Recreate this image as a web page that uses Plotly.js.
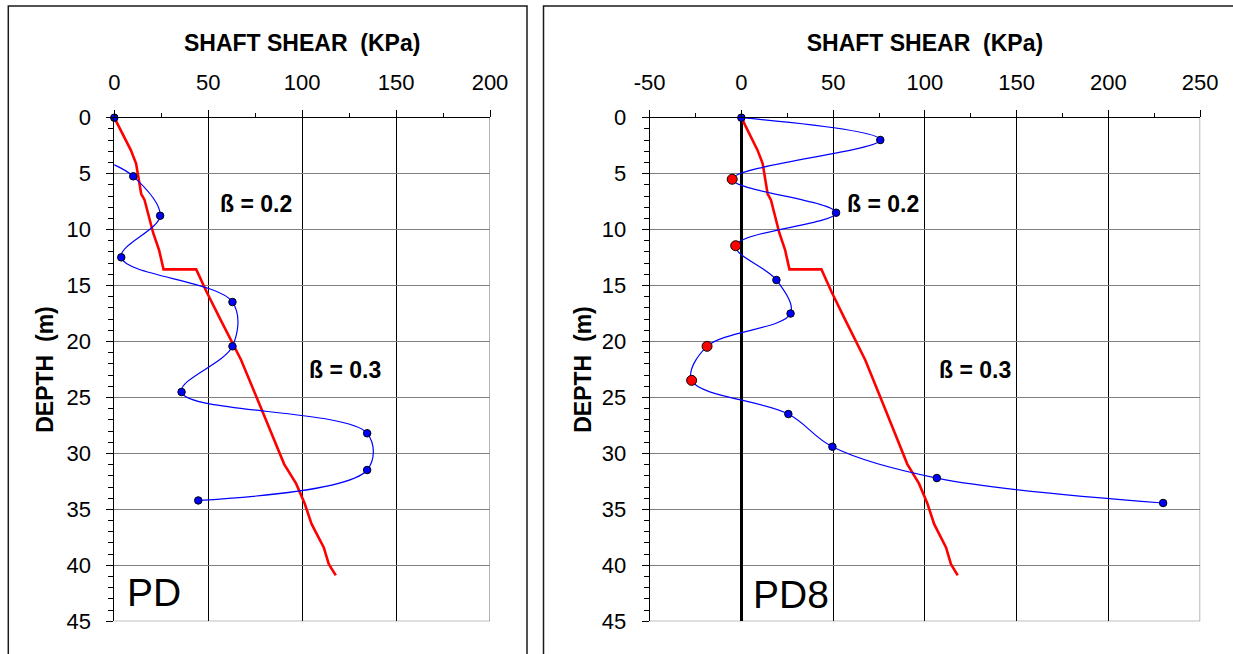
<!DOCTYPE html>
<html>
<head>
<meta charset="utf-8">
<script src="https://cdn.plot.ly/plotly-3.0.1.min.js"></script>
<style>html,body{margin:0;padding:0;background:#fff;}#chart{width:1233px;height:654px;}</style>
</head>
<body>
<div id="chart"></div>
<script>
// ---- Data ----
// Left panel (PD): measured shaft shear vs depth
var pdShear = [0, 10.1, 24.4, 3.7, 62.9, 62.9, 35.8, 134.6, 134.6, 44.7];
var pdDepth = [0, 5.24, 8.76, 12.48, 16.47, 20.43, 24.51, 28.2, 31.48, 34.2];
// visible start of the smoothed PD curve (the curve enters from the axis)
var pdCurveStartShear = -3;
var pdCurveStartDepth = 4.0;

// Right panel (PD8): measured shaft shear vs depth
var pd8Shear = [0, 75.7, -5.0, 51.6, -3.1, 19.1, 26.8, -18.7, -27.1, 25.6, 49.6, 106.5, 229.8];
var pd8Depth = [0, 1.99, 5.5, 8.49, 11.44, 14.5, 17.5, 20.43, 23.47, 26.48, 29.4, 32.2, 34.43];

// Beta-method prediction (same on both panels)
var betaShear = [0, 8.8, 11.6, 14.3, 16.1, 18.9, 20.7, 23.8, 26.2, 43.6, 49.1, 56.4, 63.8, 67.5, 78.5, 84.0, 90.4, 96.8, 101.4, 105.0, 111.5, 114.2, 117.9];
var betaDepth = [0, 2.9, 4.1, 6.8, 7.35, 9.1, 10.3, 11.8, 13.55, 13.55, 15.55, 18.0, 20.46, 21.65, 26.1, 28.3, 30.95, 32.7, 34.5, 36.3, 38.4, 39.9, 40.9];

// Axis settings / labels
var leftXRange = [0, 200];
var rightXRange = [-50, 250];
var leftXTicks = [0, 50, 100, 150, 200];
var leftXTickText = ['0', '50', '100', '150', '200'];
var rightXTicks = [-50, 0, 50, 100, 150, 200, 250];
var rightXTickText = ['-50', '0', '50', '100', '150', '200', '250'];
var depthRange = [45, 0];
var xTitle = 'SHAFT SHEAR \u00a0(KPa)';
var yTitle = 'DEPTH \u00a0(m)';
var betaLabels = ['\u00df = 0.2', '\u00df = 0.3'];
var betaLabelShearLeft = [75.2, 122.7];
var betaLabelShearRight = [77.2, 127.3];
var betaLabelDepth = [7.7, 22.55];
var panelNames = ['PD', 'PD8'];

// ---- Styling ----
var FONT = 'Arial, "Liberation Sans", Helvetica, sans-serif';
var W = 1233, H = 654;
function px(v) { return v / W; }
function py(v) { return 1 - v / H; }

var traces = [];
// red beta lines
traces.push({x: betaShear, y: betaDepth, xaxis: 'x', yaxis: 'y', mode: 'lines',
  line: {color: '#ff0000', width: 2.6}, hoverinfo: 'skip'});
traces.push({x: betaShear, y: betaDepth, xaxis: 'x2', yaxis: 'y2', mode: 'lines',
  line: {color: '#ff0000', width: 2.6}, hoverinfo: 'skip'});

// left measured curve
traces.push({x: [pdCurveStartShear].concat(pdShear.slice(1)),
  y: [pdCurveStartDepth].concat(pdDepth.slice(1)),
  xaxis: 'x', yaxis: 'y', mode: 'lines',
  line: {color: '#0000ff', width: 1.2, shape: 'spline', smoothing: 1}, hoverinfo: 'skip'});
traces.push({x: pdShear, y: pdDepth, xaxis: 'x', yaxis: 'y', mode: 'markers', cliponaxis: false,
  marker: {color: '#0000ff', size: 7.5, opacity: 1, line: {color: '#000', width: 1}}, hoverinfo: 'skip'});

// right measured curve
traces.push({x: pd8Shear, y: pd8Depth, xaxis: 'x2', yaxis: 'y2', mode: 'lines+markers', cliponaxis: false,
  line: {color: '#0000ff', width: 1.2, shape: 'spline', smoothing: 1},
  marker: {color: pd8Shear.map(function (v) { return v < 0 ? '#ff0000' : '#0000ff'; }),
           size: pd8Shear.map(function (v) { return v < 0 ? 10 : 7.5; }),
           opacity: 1,
           line: {color: '#000', width: 1}}, hoverinfo: 'skip'});

function xAxis(domain, range, anchor, tickvals, ticktext) {
  return {
    domain: domain, range: range, anchor: anchor, side: 'top',
    tickmode: 'array', tickvals: tickvals, ticktext: ticktext,
    ticks: 'outside', ticklen: 7, tickwidth: 1, tickcolor: '#000',
    showline: true, linecolor: '#000', linewidth: 1,
    showgrid: true, gridcolor: '#000', gridwidth: 1,
    zeroline: false, fixedrange: true,
    minor: {dtick: 25, tick0: 0, ticks: 'outside', ticklen: 4, tickcolor: '#000', showgrid: false},
    tickfont: {family: FONT, size: 22, color: '#000'},
    ticklabelstandoff: 11,
    title: {text: '<b>' + xTitle + '</b>', font: {family: FONT, size: 23, color: '#000'}, standoff: 11}
  };
}
function yAxis(anchor, standoff) {
  return {
    domain: [py(621.3), py(117.7)], range: depthRange, anchor: anchor,
    dtick: 5, tick0: 0, ticks: 'outside', ticklen: 7, tickwidth: 1, tickcolor: '#000',
    showline: true, linecolor: '#000', linewidth: 1,
    showgrid: true, gridcolor: '#808080', gridwidth: 1,
    zeroline: false, fixedrange: true,
    minor: {dtick: 1, tick0: 0, ticks: 'outside', ticklen: 5, tickcolor: '#000', showgrid: false},
    tickfont: {family: FONT, size: 22, color: '#000'},
    ticklabelstandoff: 11,
    title: {text: '<b>' + yTitle + '</b>', font: {family: FONT, size: 23, color: '#000'}, standoff: standoff}
  };
}

var xa = xAxis([px(114.3), px(490)], leftXRange, 'y', leftXTicks, leftXTickText);
var xa2 = xAxis([px(649.6), px(1200.2)], rightXRange, 'x2' === 'x2' ? 'y2' : 'y2', rightXTicks, rightXTickText);
xa2.zeroline = true; xa2.zerolinecolor = '#000'; xa2.zerolinewidth = 3.5;

var annotations = [];
[0, 1].forEach(function (i) {
  annotations.push({xref: 'x', yref: 'y', x: betaLabelShearLeft[i], y: betaLabelDepth[i], text: '<b>' + betaLabels[i] + '</b>',
    showarrow: false, font: {family: FONT, size: 23, color: '#000'}});
  annotations.push({xref: 'x2', yref: 'y2', x: betaLabelShearRight[i], y: betaLabelDepth[i], text: '<b>' + betaLabels[i] + '</b>',
    showarrow: false, font: {family: FONT, size: 23, color: '#000'}});
});
annotations.push({xref: 'x', yref: 'y', x: 5.5, y: 42.4, xanchor: 'left', text: panelNames[0], showarrow: false,
  font: {family: FONT, size: 39, color: '#000'}});
annotations.push({xref: 'x2', yref: 'y2', x: 5.0, y: 42.6, xanchor: 'left', text: panelNames[1], showarrow: false,
  font: {family: FONT, size: 39, color: '#000'}});

var shapes = [
  // outer frames
  {type: 'rect', xref: 'paper', yref: 'paper', x0: px(8.3), x1: px(527), y0: -0.05, y1: py(6), line: {color: '#1a1a1a', width: 1.5}, layer: 'above'},
  {type: 'rect', xref: 'paper', yref: 'paper', x0: px(543.5), x1: 1.05, y0: -0.05, y1: py(6), line: {color: '#1a1a1a', width: 1.5}, layer: 'above'},
  // plot area right / bottom borders (gray)
  {type: 'line', xref: 'x', yref: 'y', x0: leftXRange[1], x1: leftXRange[1], y0: 0, y1: 45, line: {color: '#808080', width: 1.2}, layer: 'below'},
  {type: 'line', xref: 'x', yref: 'y', x0: leftXRange[0], x1: leftXRange[1], y0: 45, y1: 45, line: {color: '#808080', width: 1.2}, layer: 'below'},
  {type: 'line', xref: 'x2', yref: 'y2', x0: rightXRange[1], x1: rightXRange[1], y0: 0, y1: 45, line: {color: '#808080', width: 1.2}, layer: 'below'},
  {type: 'line', xref: 'x2', yref: 'y2', x0: rightXRange[0], x1: rightXRange[1], y0: 45, y1: 45, line: {color: '#808080', width: 1.2}, layer: 'below'}
];

var layout = {
  width: W, height: H, margin: {l: 0, r: 0, t: 0, b: 0, pad: 0},
  paper_bgcolor: '#fff', plot_bgcolor: '#fff', showlegend: false,
  font: {family: FONT, color: '#000'},
  xaxis: xa, yaxis: yAxis('x', 6),
  xaxis2: xa2, yaxis2: yAxis('x2', 3),
  annotations: annotations, shapes: shapes
};

Plotly.newPlot('chart', traces, layout, {staticPlot: true, displayModeBar: false});
</script>
</body>
</html>
